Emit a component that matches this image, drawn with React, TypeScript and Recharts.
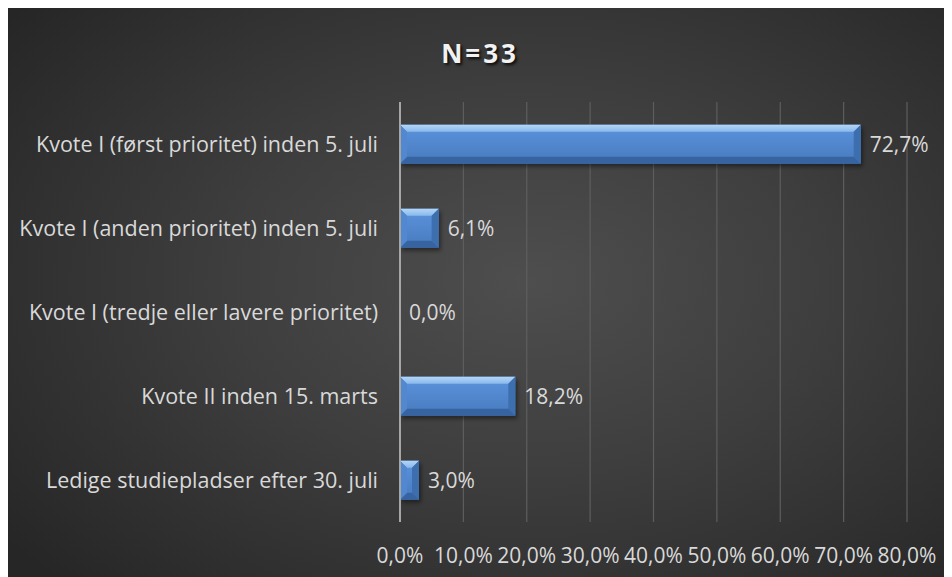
import React from 'react';
import { BarChart, Bar, XAxis, YAxis, CartesianGrid, LabelList } from 'recharts';

const categories = [
  'Kvote I (først prioritet) inden 5. juli',
  'Kvote I (anden prioritet) inden 5. juli',
  'Kvote I (tredje eller lavere prioritet)',
  'Kvote II inden 15. marts',
  'Ledige studiepladser efter 30. juli',
];
const shares = [0.727, 0.061, 0.0, 0.182, 0.03];
const xTicks = [0, 0.1, 0.2, 0.3, 0.4, 0.5, 0.6, 0.7, 0.8];
const title = 'N=33';

const data = categories.map((name, i) => ({ name, share: shares[i] }));

const pct = (v: number) => (v * 100).toFixed(1).replace('.', ',') + '%';

const FONT = '"Open Sans", Lato, sans-serif';
const TEXT = '#d9d9d9';

const BevelBar = (props: any) => {
  const { x, y, width, height } = props;
  if (!width || width <= 0.5) return null;
  const b = Math.min(7, width / 2, height / 2);
  const r = x + width;
  const bt = y + height;
  return (
    <g>
      <rect x={x + 2} y={y + 3} width={width} height={height} fill="rgba(0,0,0,0.45)" filter="url(#barShadow)" />
      <rect x={x} y={y} width={width} height={height} fill="url(#barFace)" />
      <polygon points={`${x},${y} ${r},${y} ${r - b},${y + b} ${x + b},${y + b}`} fill="url(#barTop)" />
      <polygon points={`${r},${y} ${r},${bt} ${r - b},${bt - b} ${r - b},${y + b}`} fill="#3d6eae" />
      <polygon points={`${x},${bt} ${r},${bt} ${r - b},${bt - b} ${x + b},${bt - b}`} fill="#3763a0" />
      <polygon points={`${x},${y} ${x + b},${y + b} ${x + b},${bt - b} ${x},${bt}`} fill="#5288cf" />
    </g>
  );
};

const YTick = (props: any) => {
  const { x, y, payload } = props;
  return (
    <text x={x - 14} y={y} dy={8} textAnchor="end" fill={TEXT} fontSize={21.5} fontFamily={FONT}>
      {payload.value}
    </text>
  );
};

export default function App() {
  return (
    <div
      style={{
        position: 'relative',
        width: 944,
        height: 569,
        background: 'radial-gradient(ellipse 70% 75% at 55% 48%, #4e4e4e 0%, #3e3e3e 45%, #262626 100%)',
      }}
    >
      <div
        style={{
          position: 'absolute',
          top: 27,
          left: 0,
          width: 944,
          textAlign: 'center',
          color: '#f2f2f2',
          fontFamily: FONT,
          fontWeight: 700,
          fontSize: 26,
          letterSpacing: 3,
          textShadow: '2px 2px 3px rgba(0,0,0,0.8)',
        }}
      >
        {title}
      </div>
      <BarChart
        width={944}
        height={569}
        data={data}
        layout="vertical"
        margin={{ top: 94, right: 45, bottom: 15, left: 0 }}
        barCategoryGap="27%"
        style={{ position: 'absolute', top: 0, left: 0 }}
      >
        <defs>
          <linearGradient id="barFace" x1="0" y1="0" x2="0" y2="1">
            <stop offset="0%" stopColor="#5c93dc" />
            <stop offset="100%" stopColor="#477bbf" />
          </linearGradient>
          <linearGradient id="barTop" x1="0" y1="0" x2="0" y2="1">
            <stop offset="0%" stopColor="#b4d6f7" />
            <stop offset="100%" stopColor="#8ab9ec" />
          </linearGradient>
          <filter id="barShadow" x="-10%" y="-30%" width="130%" height="170%">
            <feGaussianBlur stdDeviation="2" />
          </filter>
        </defs>
        <CartesianGrid horizontal={false} stroke="#5e5e5e" strokeWidth={1.2} />
        <XAxis
          type="number"
          domain={[0, 0.8]}
          ticks={xTicks}
          tickFormatter={pct}
          axisLine={false}
          tickLine={false}
          tickMargin={20}
          height={40}
          interval={0}
          tick={{ fill: TEXT, fontSize: 21, fontFamily: FONT }}
        />
        <YAxis
          type="category"
          dataKey="name"
          width={392}
          axisLine={{ stroke: '#a6a6a6', strokeWidth: 2 }}
          tickLine={false}
          tick={<YTick />}
          interval={0}
        />
        <Bar dataKey="share" shape={<BevelBar />} isAnimationActive={false}>
          <LabelList
            dataKey="share"
            position="right"
            offset={9}
            formatter={(v: any) => pct(Number(v))}
            fill={TEXT}
            fontSize={21}
            fontFamily={FONT}
          />
        </Bar>
      </BarChart>
    </div>
  );
}
